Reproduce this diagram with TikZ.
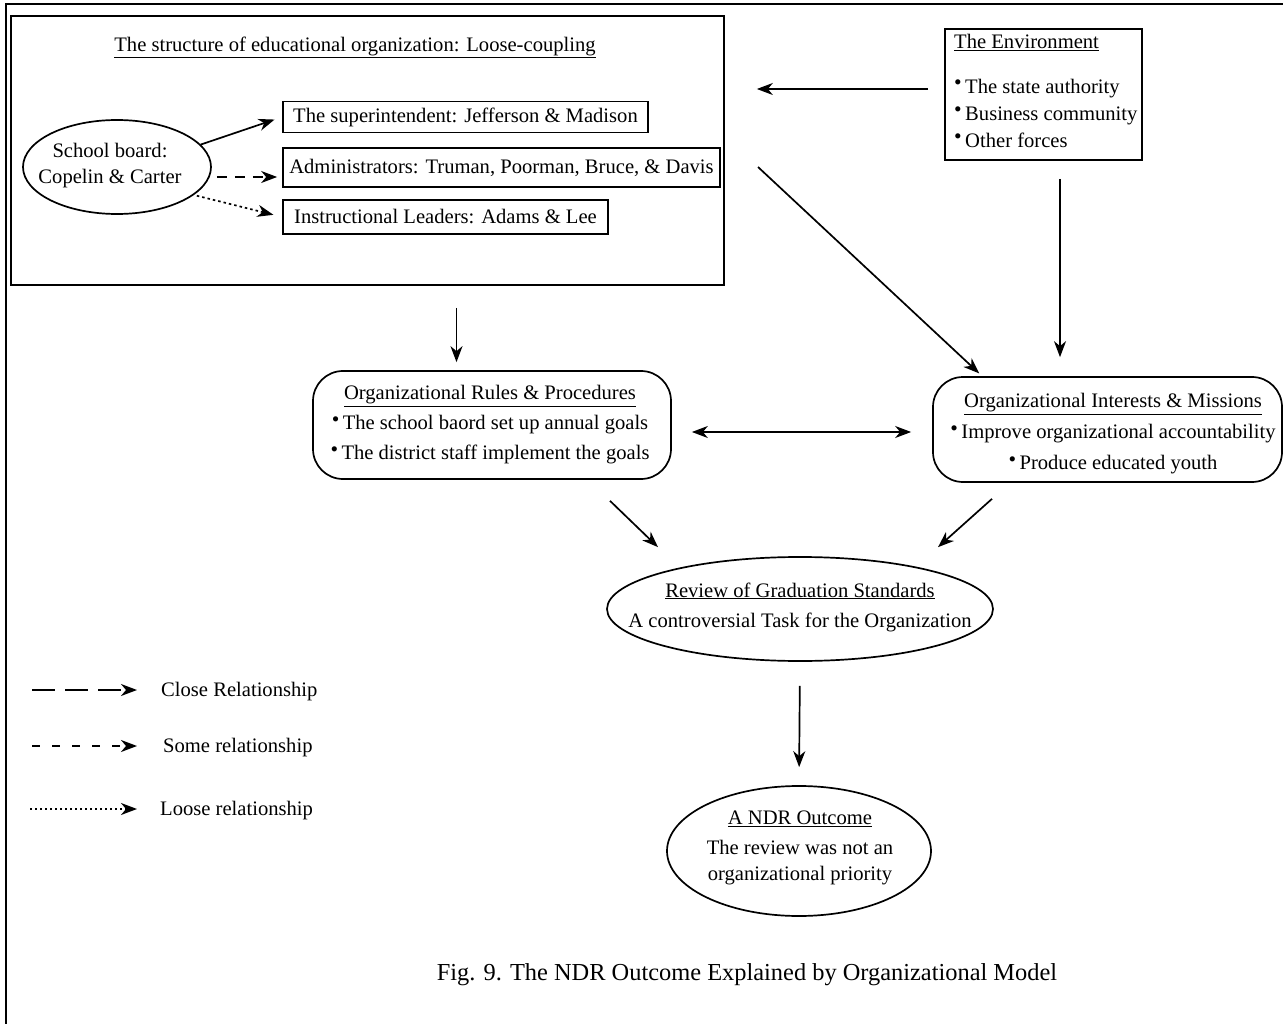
\documentclass[tikz,border=0pt]{standalone}
\usepackage{fontspec}
\usepackage{graphicx}
\setmainfont{Liberation Serif}
\usetikzlibrary{arrows.meta,shapes.geometric}
\newcommand{\blt}{\raisebox{0.38ex}{\scalebox{1.05}{\textbullet}}\,}

\begin{document}
\begin{tikzpicture}[x=1pt,y=-1pt,
  every node/.style={inner sep=0pt, font=\fontsize{20.6}{27}\selectfont},
  ln/.style={line width=1.7pt},
  boxed/.style={draw, ln, rectangle},
  rboxed/.style={draw, ln, rectangle, rounded corners=30pt},
  oval/.style={draw, ln, ellipse},
  myhead/.tip={Stealth[length=16pt,width=12pt,inset=5pt]},
  conn/.style={ln, -myhead},
  biconn/.style={ln, myhead-myhead},
  somedash/.style={dash pattern=on 10pt off 8pt},
  loosedot/.style={dash pattern=on 2.5pt off 3pt},
  closeleg/.style={dash pattern=on 23pt off 10pt},
  someleg/.style={dash pattern=on 8pt off 12pt},
  looseleg/.style={dash pattern=on 2pt off 3pt},
  caption/.style={font=\fontsize{24.4}{28}\selectfont}
]
\useasboundingbox (0,0) rectangle (1283,1024);

% page frame (top and left rules)
\draw[ln] (1283,4) -- (6,4) -- (6,1024);

% ---- structure of the organization ----
\node[boxed, minimum width=713pt, minimum height=269pt] (struct) at (367.5,150.5) {};
\node (structtitle) at (355,47) {\underline{The structure of educational organization: Loose-coupling}};

\node[oval, minimum width=188pt, minimum height=94pt] (board) at (117,167) {};
\node[align=center, font=\fontsize{20.6}{26}\selectfont] (boardtext) at (110,166) {School board:\\Copelin \& Carter};

\node[boxed, minimum width=365pt, minimum height=31pt] (sup) at (465.5,117) {The superintendent: Jefferson \& Madison};
\node[boxed, minimum width=437pt, minimum height=39pt] (adm) at (501.5,167.5) {Administrators: Truman, Poorman, Bruce, \& Davis};
\node[boxed, minimum width=325pt, minimum height=34pt] (ins) at (445.5,217) {Instructional Leaders: Adams \& Lee};

\draw[conn, shorten >=8pt] (board.15) -- (sup.west);
\draw[conn, somedash, shorten <=5pt, shorten >=5pt] ([yshift=-10pt]board.east) -- ([yshift=-10pt]board.east -| adm.west);
\draw[conn, loosedot, shorten <=3pt, shorten >=9pt] (board.-20) -- (ins.west);

% ---- environment ----
\node[boxed, minimum width=197pt, minimum height=131pt] (env) at (1043.5,94.5) {};
\node[align=left, anchor=north west] (envtext) at (954,34)
  {\underline{The Environment}\\[18pt]
   \blt The state authority\\
   \blt Business community\\
   \blt Other forces};

% ---- rules and interests ----
\node[rboxed, minimum width=358pt, minimum height=108pt] (rules) at (492,425) {};
\node[align=center, font=\fontsize{20.6}{30}\selectfont] (rulestext) at (490,425)
  {\underline{Organizational Rules \& Procedures}\\
   \blt The school baord set up annual goals\\
   \blt The district staff implement the goals};

\node[rboxed, minimum width=349pt, minimum height=105pt] (int) at (1107.5,429.5) {};
\node[align=center, font=\fontsize{20.6}{31}\selectfont] (inttext) at (1113,434)
  {\underline{Organizational Interests \& Missions}\\
   \blt Improve organizational accountability\\
   \blt Produce educated youth};

% ---- review and outcome ----
\node[oval, minimum width=386pt, minimum height=104pt] (review) at (800,609) {};
\node[align=center, font=\fontsize{20.6}{30}\selectfont] (reviewtext) at (800,607)
  {\underline{Review of Graduation Standards}\\
   A controversial Task for the Organization};

\node[oval, minimum width=264pt, minimum height=130pt] (outcome) at (799,851) {};
\node[align=center, font=\fontsize{20.6}{26}\selectfont] (outcometext) at (800,848)
  {\underline{A NDR Outcome}\\[4pt]
   The review was not an\\
   organizational priority};

% ---- connectors ----
\draw[conn, shorten <=16pt, shorten >=32pt] ([yshift=5.5pt]env.west) -- ([yshift=5.5pt]env.west -| struct.east);
\coordinate (diagstart) at (758,167);
\draw[conn, shorten >=4pt] (diagstart) -- ([xshift=50pt]int.north west);
\draw[conn, shorten <=18pt, shorten >=19pt] ([xshift=16.5pt]env.south) -- ([xshift=16.5pt]env.south |- int.north);
\draw[conn, shorten <=22pt, shorten >=8pt] ([xshift=89pt]struct.south) -- ([xshift=89pt]struct.south |- rules.north);
\draw[biconn, shorten <=20pt, shorten >=21pt] ([yshift=-7pt]rules.east) -- ([yshift=-7pt]rules.east -| int.west);
\draw[conn] ([xshift=118pt,yshift=-21pt]rules.south) -- ([xshift=-142pt,yshift=9pt]review.north);
\draw[conn] ([xshift=-115.5pt,yshift=-16pt]int.south) -- ([xshift=138pt,yshift=9pt]review.north);
\draw[conn, shorten <=24pt, shorten >=18pt] (review.south) -- (outcome.north);

% ---- legend ----
\node[anchor=west] (lclose) at (161,692) {Close Relationship};
\node[anchor=west] (lsome) at (163,748) {Some relationship};
\node[anchor=west] (lloose) at (160,811) {Loose relationship};
\coordinate (closestart) at (32,690);
\coordinate (somestart) at (32,746);
\coordinate (loosestart) at (30,809);
\draw[conn, closeleg] (closestart) -- ([xshift=-24pt,yshift=2pt]lclose.west);
\draw[conn, someleg] (somestart) -- ([xshift=-26pt,yshift=2pt]lsome.west);
\draw[conn, looseleg] (loosestart) -- ([xshift=-23pt,yshift=2pt]lloose.west);

% ---- caption ----
\node[caption] (figcaption) at (747,975) {Fig. 9. The NDR Outcome Explained by Organizational Model};
\end{tikzpicture}
\end{document}
